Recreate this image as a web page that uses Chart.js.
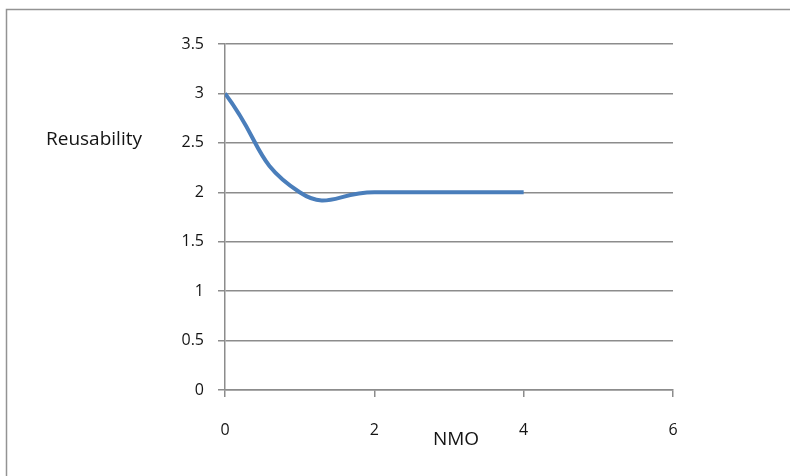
<!DOCTYPE html>
<html>
<head>
<meta charset="utf-8">
<script src="https://cdn.jsdelivr.net/npm/chart.js@4/dist/chart.umd.min.js"></script>
<style>
  html, body { margin: 0; padding: 0; background: #fff; }
  #wrap { width: 790px; height: 476px; position: relative; }
</style>
</head>
<body>
<div id="wrap"><canvas id="chart" width="790" height="476"></canvas></div>
<script>
// data
const nmoValues = [0, 1, 2, 3, 4];
const reusabilityValues = [3, 2, 2, 2, 2];
const xTicks = [0, 2, 4, 6];
const yTicks = [0, 0.5, 1, 1.5, 2, 2.5, 3, 3.5];

const AXIS_COLOR = "#8c8c8c";
const LINE_COLOR = "#4a7ebb";
const TEXT_COLOR = "#141414";
const FONT = "'Open Sans', 'Liberation Sans', sans-serif";

// white background + outer frame + the two horizontal axis titles
const framePlugin = {
    id: "frame",
    beforeDraw(chart) {
        const ctx = chart.ctx;
        ctx.save();
        ctx.fillStyle = "#fff";
        ctx.fillRect(0, 0, chart.width, chart.height);
        ctx.strokeStyle = "#939393";
        ctx.lineWidth = 1.5;
        ctx.strokeRect(6.5, 9.5, chart.width, chart.height);
        ctx.restore();
    },
    afterDraw(chart) {
        const ctx = chart.ctx;
        const y = chart.scales.y;
        ctx.save();
        ctx.fillStyle = TEXT_COLOR;
        ctx.font = "19px " + FONT;
        ctx.textBaseline = "middle";
        ctx.textAlign = "left";
        ctx.fillText("Reusability", 46, y.getPixelForValue(2.5) - 3);
        ctx.textAlign = "center";
        ctx.fillText("NMO", 456, 440);
        ctx.restore();
    }
};

const points = nmoValues.map((x, i) => ({ x: x, y: reusabilityValues[i] }));

new Chart(document.getElementById("chart"), {
    type: "scatter",
    data: {
        datasets: [{
            data: points,
            showLine: true,
            borderColor: LINE_COLOR,
            borderWidth: 4,
            pointRadius: 0,
            tension: 0.5
        }]
    },
    options: {
        responsive: false,
        animation: false,
        layout: { padding: { top: 44, right: 117, left: 0, bottom: 0 } },
        plugins: {
            legend: { display: false },
            tooltip: { enabled: false }
        },
        scales: {
            x: {
                type: "linear",
                min: 0,
                max: 6,
                afterBuildTicks: scale => { scale.ticks = xTicks.map(v => ({ value: v })); },
                afterFit: scale => { scale.height = 86; },
                border: { color: AXIS_COLOR, width: 1.5 },
                grid: { drawOnChartArea: false, drawTicks: true, tickLength: 7, color: AXIS_COLOR, lineWidth: 1.5 },
                ticks: {
                    color: TEXT_COLOR, font: { size: 16, family: FONT }, padding: 24, maxRotation: 0,
                    callback: v => String(v)
                }
            },
            y: {
                min: 0,
                max: 3.5,
                afterBuildTicks: scale => { scale.ticks = yTicks.map(v => ({ value: v })); },
                afterFit: scale => { scale.width = 225; },
                border: { color: AXIS_COLOR, width: 1.5 },
                grid: { color: AXIS_COLOR, lineWidth: 1.5, tickLength: 7 },
                ticks: {
                    color: TEXT_COLOR, font: { size: 16, family: FONT }, padding: 14,
                    callback: v => String(v)
                }
            }
        }
    },
    plugins: [framePlugin]
});
</script>
</body>
</html>
